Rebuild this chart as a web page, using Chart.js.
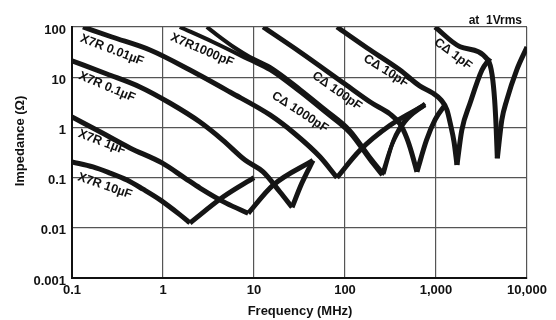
<!DOCTYPE html>
<html>
<head>
<meta charset="utf-8">
<script src="https://cdn.jsdelivr.net/npm/chart.js@4.4.1/dist/chart.umd.min.js"></script>
<style>
body { margin: 0; background: #fff; }
canvas { display: block; }
</style>
</head>
<body>
<canvas id="ImpChart" width="556" height="320"></canvas>
<script>
// axis ticks
const xTicks = [0.1, 1, 10, 100, 1000, 10000];
const xTickLabels = ['0.1', '1', '10', '100', '1,000', '10,000'];
const yTicks = [0.001, 0.01, 0.1, 1, 10, 100];
const yTickLabels = ['0.001', '0.01', '0.1', '1', '10', '100'];

// curve names
const curveNames = ['X7R 0.01\u00b5F', 'X7R 0.1\u00b5F', 'X7R 1\u00b5F', 'X7R 10\u00b5F', 'X7R1000pF',
    'C\u0394 1000pF', 'C\u0394 100pF', 'C\u0394 10pF', 'C\u0394 1pF'];

// frequency (MHz) / impedance (ohm)
const fX7R10u = [0.1, 0.17, 0.262, 0.402, 0.603, 0.93, 1.53, 1.98, 4.56, 10];
const zX7R10u = [0.205, 0.163, 0.123, 0.0896, 0.0587, 0.036, 0.0183, 0.0125, 0.041, 0.1];

const fX7R1u = [0.1, 0.213, 0.433, 0.975, 1.74, 2.55, 4.94, 8.65, 16.1, 44.5];
const zX7R1u = [1.62, 0.78, 0.39, 0.196, 0.098, 0.062, 0.031, 0.0195, 0.07, 0.22];

const fX7R100n = [0.1, 0.242, 0.558, 1.19, 2.55, 4.53, 7.97, 12.6, 19.4, 26.2, 33.6, 44.5];
const zX7R100n = [21.3, 11.6, 6.4, 3.06, 1.28, 0.56, 0.224, 0.13, 0.051, 0.0256, 0.078, 0.22];

const fX7R10n = [0.132, 0.275, 0.72, 1.98, 5.44, 15, 28.3, 53, 81.6, 146, 313, 757];
const zX7R10n = [100, 63.2, 34.8, 13.9, 5.07, 1.77, 0.74, 0.26, 0.1, 0.35, 1.1, 2.8];

const fX7R1n = [1.53, 3.54, 9.0, 15, 32, 60, 113, 188, 255, 328, 456, 757];
const zX7R1n = [100, 50.3, 22, 13.9, 5.07, 2.02, 0.77, 0.224, 0.112, 0.45, 1.28, 2.8];

const fC1n = [3.03, 4.22, 6.2, 9.0, 15, 32, 60, 113, 188, 265, 340, 470, 757];
const zC1n = [100, 63, 38.2, 25.3, 16.0, 5.83, 2.32, 0.885, 0.258, 0.118, 0.55, 1.5, 3.0];

const fC100p = [12.6, 32, 100, 197, 311, 402, 478, 541, 617, 787, 975, 1257];
const zC100p = [100, 31.8, 7.3, 3.06, 1.86, 1.17, 0.61, 0.31, 0.13, 0.56, 1.41, 2.8];

const fC10p = [81.6, 175, 402, 661, 927, 1140, 1320, 1450, 1580, 1700, 1920, 2370, 3200, 3920];
const zC10p = [100, 38.2, 13.9, 6.7, 4.8, 3.5, 2.22, 1.1, 0.51, 0.178, 0.88, 3.06, 13.9, 24];

const fC1p = [975, 1840, 3720, 4140, 4410, 4570, 4720, 5290, 5990, 7700, 10000];
const zC1p = [100, 40.5, 22, 11, 3.5, 1.1, 0.242, 1.41, 3.5, 13.9, 40];

const curveF = [fX7R10n, fX7R100n, fX7R1u, fX7R10u, fX7R1n, fC1n, fC100p, fC10p, fC1p];
const curveZ = [zX7R10n, zX7R100n, zX7R1u, zX7R10u, zX7R1n, zC1n, zC100p, zC10p, zC1p];

// where each curve name sits: [freq, impedance, angle deg]
const labelPlace = [
    [0.275, 34.8, 21], [0.242, 6.4, 23], [0.213, 0.51, 21], [0.23, 0.068, 19],
    [2.69, 34.8, 23], [32, 2.02, 33], [81.6, 5.3, 35], [283, 13.3, 32], [1540, 28.9, 37]
];

const FONT = '"Liberation Sans", Arial, sans-serif';

// split each curve at its dip so the V stays sharp
const datasets = [];
curveF.forEach((f, c) => {
    const z = curveZ[c];
    let iMin = 0;
    z.forEach((v, i) => { if (v < z[iMin]) iMin = i; });
    const pts = f.map((v, i) => ({ x: v, y: z[i] }));
    const parts = iMin > 0 && iMin < z.length - 1 ? [pts.slice(0, iMin + 1), pts.slice(iMin)] : [pts];
    const pair = c === 4 || c === 5;   // the two 1000pF parts run side by side
    parts.forEach(p => {
        datasets.push({
            label: curveNames[c],
            data: p,
            borderColor: '#151515',
            borderWidth: pair ? 4 : 5,
            borderCapStyle: 'butt',
            borderJoinStyle: 'round',
            pointRadius: 0,
            fill: false,
            cubicInterpolationMode: 'monotone'
        });
    });
});

const textPlugin = {
    id: 'texts',
    afterDraw(chart) {
        const ctx = chart.ctx;
        const xs = chart.scales.x, ys = chart.scales.y;
        ctx.save();
        ctx.fillStyle = '#111';
        ctx.textAlign = 'center';
        ctx.textBaseline = 'middle';
        ctx.font = 'bold 12.5px ' + FONT;
        labelPlace.forEach((p, i) => {
            ctx.save();
            ctx.translate(xs.getPixelForValue(p[0]), ys.getPixelForValue(p[1]));
            ctx.rotate(p[2] * Math.PI / 180);
            ctx.fillText(curveNames[i], 0, 0);
            ctx.restore();
        });
        ctx.font = 'bold 13px ' + FONT;
        ctx.fillText('Frequency (MHz)', 300, 311);
        ctx.save();
        ctx.translate(20, 141);
        ctx.rotate(-Math.PI / 2);
        ctx.fillText('Impedance (\u03a9)', 0, 0);
        ctx.restore();
        ctx.font = 'bold 12px ' + FONT;
        ctx.textAlign = 'right';
        ctx.fillText('at  1Vrms', 522, 21);
        ctx.restore();
    }
};

new Chart(document.getElementById('ImpChart'), {
    type: 'line',
    data: { datasets: datasets },
    options: {
        responsive: false,
        animation: false,
        layout: { padding: { left: 0, right: 29, top: 27, bottom: 0 } },
        plugins: { legend: { display: false }, tooltip: { enabled: false } },
        scales: {
            x: {
                type: 'logarithmic',
                min: 0.1,
                max: 10000,
                afterBuildTicks: axis => { axis.ticks = xTicks.map(v => ({ value: v })); },
                afterFit: axis => { axis.height = 42; },
                ticks: {
                    autoSkip: false,
                    maxRotation: 0,
                    padding: 5,
                    color: '#111',
                    font: { family: FONT, size: 13, weight: 'bold' },
                    callback: (v, i) => xTickLabels[i]
                },
                grid: { color: '#555', lineWidth: 1.2, drawTicks: false },
                border: { color: '#111', width: 2 }
            },
            y: {
                type: 'logarithmic',
                min: 0.001,
                max: 100,
                afterBuildTicks: axis => { axis.ticks = yTicks.map(v => ({ value: v })); },
                afterFit: axis => { axis.width = 72; },
                ticks: {
                    padding: 6,
                    labelOffset: 3,
                    color: '#111',
                    font: { family: FONT, size: 13, weight: 'bold' },
                    callback: (v, i) => yTickLabels[i]
                },
                grid: { color: '#555', lineWidth: 1.2, drawTicks: false },
                border: { color: '#111', width: 2 }
            }
        }
    },
    plugins: [textPlugin]
});
</script>
</body>
</html>
